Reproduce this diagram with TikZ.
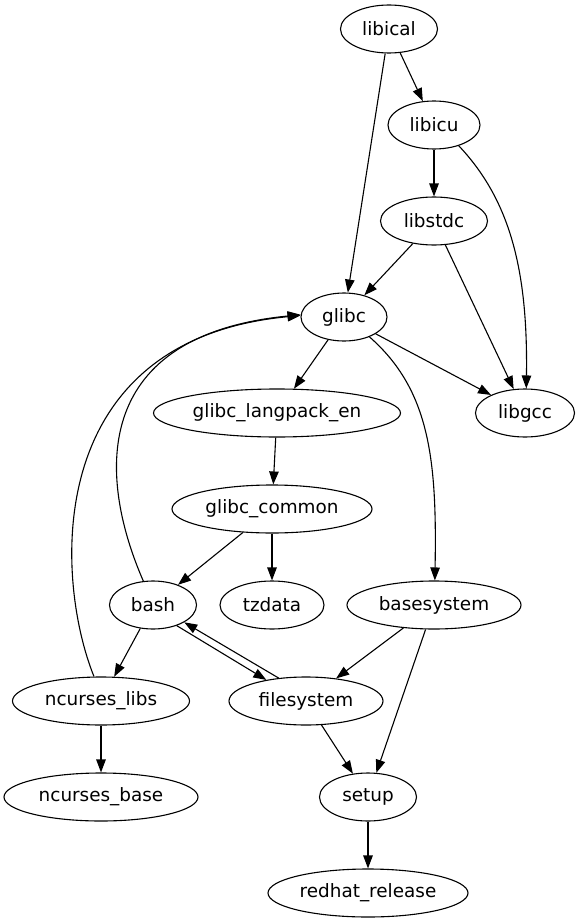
\documentclass[tikz,border=0pt]{standalone}
\usepackage{fontspec}
\setmainfont{DejaVu Sans}
\usetikzlibrary{shapes.geometric,arrows.meta}
\begin{document}
\begin{tikzpicture}[x=1pt,y=-1pt,
  nd/.style={ellipse,draw,line width=1.1pt,inner sep=0pt,minimum height=48pt,
    font=\fontsize{18.4}{20}\selectfont},
  arr/.style={line width=1.1pt,-{Triangle[length=13pt,width=9.5pt]}}]
\useasboundingbox (0,0) rectangle (580,923);
\node[nd,minimum width=97pt]  (libical) at (389,29) {libical};
\node[nd,minimum width=92pt]  (libicu) at (434,125) {libicu};
\node[nd,minimum width=107pt] (libstdc) at (434,221) {libstdc};
\node[nd,minimum width=86pt]  (glibc) at (344,317) {glibc};
\node[nd,minimum width=99pt]  (libgcc) at (525,413) {libgcc};
\node[nd,minimum width=247pt] (langpack) at (277,413) {glibc\_langpack\_en};
\node[nd,minimum width=200pt] (common) at (272,509) {glibc\_common};
\node[nd,minimum width=87pt]  (bash) at (153,605) {bash};
\node[nd,minimum width=104pt] (tzdata) at (272,605) {tzdata};
\node[nd,minimum width=174pt] (basesystem) at (434,605) {basesystem};
\node[nd,minimum width=177pt] (nlibs) at (101,701) {ncurses\_libs};
\node[nd,minimum width=154pt] (filesystem) at (306,701) {filesystem};
\node[nd,minimum width=194pt] (nbase) at (101,797) {ncurses\_base};
\node[nd,minimum width=97pt]  (setup) at (368,797) {setup};
\node[nd,minimum width=200pt] (redhat) at (368,893) {redhat\_release};

\draw[arr] (libical) -- (libicu);
\draw[arr] (libical) -- (glibc);
\draw[arr] (libicu) -- (libstdc);
\draw[arr] (libicu.-40) .. controls (510,200) and (528,270) .. (libgcc.87);
\draw[arr] (libstdc) -- (glibc);
\draw[arr] (libstdc) -- (libgcc);
\draw[arr] (glibc) -- (langpack);
\draw[arr] (glibc) -- (libgcc);
\draw[arr] (glibc.-38) .. controls (430,390) and (437,460) .. (basesystem.88);
\draw[arr] (langpack) -- (common);
\draw[arr] (common) -- (bash);
\draw[arr] (common) -- (tzdata);
\draw[arr] (bash.112) .. controls (95,470) and (95,335) .. (glibc.177);
\draw[arr] (bash) -- (nlibs);
\draw[arr] (bash.-41) -- (filesystem.152);
\draw[arr] (filesystem.140) -- (bash.-29);
\draw[arr] (nlibs.106) .. controls (55,580) and (40,340) .. (glibc.178);
\draw[arr] (nlibs) -- (nbase);
\draw[arr] (basesystem) -- (filesystem);
\draw[arr] (basesystem) -- (setup);
\draw[arr] (filesystem) -- (setup);
\draw[arr] (setup) -- (redhat);
\end{tikzpicture}
\end{document}
